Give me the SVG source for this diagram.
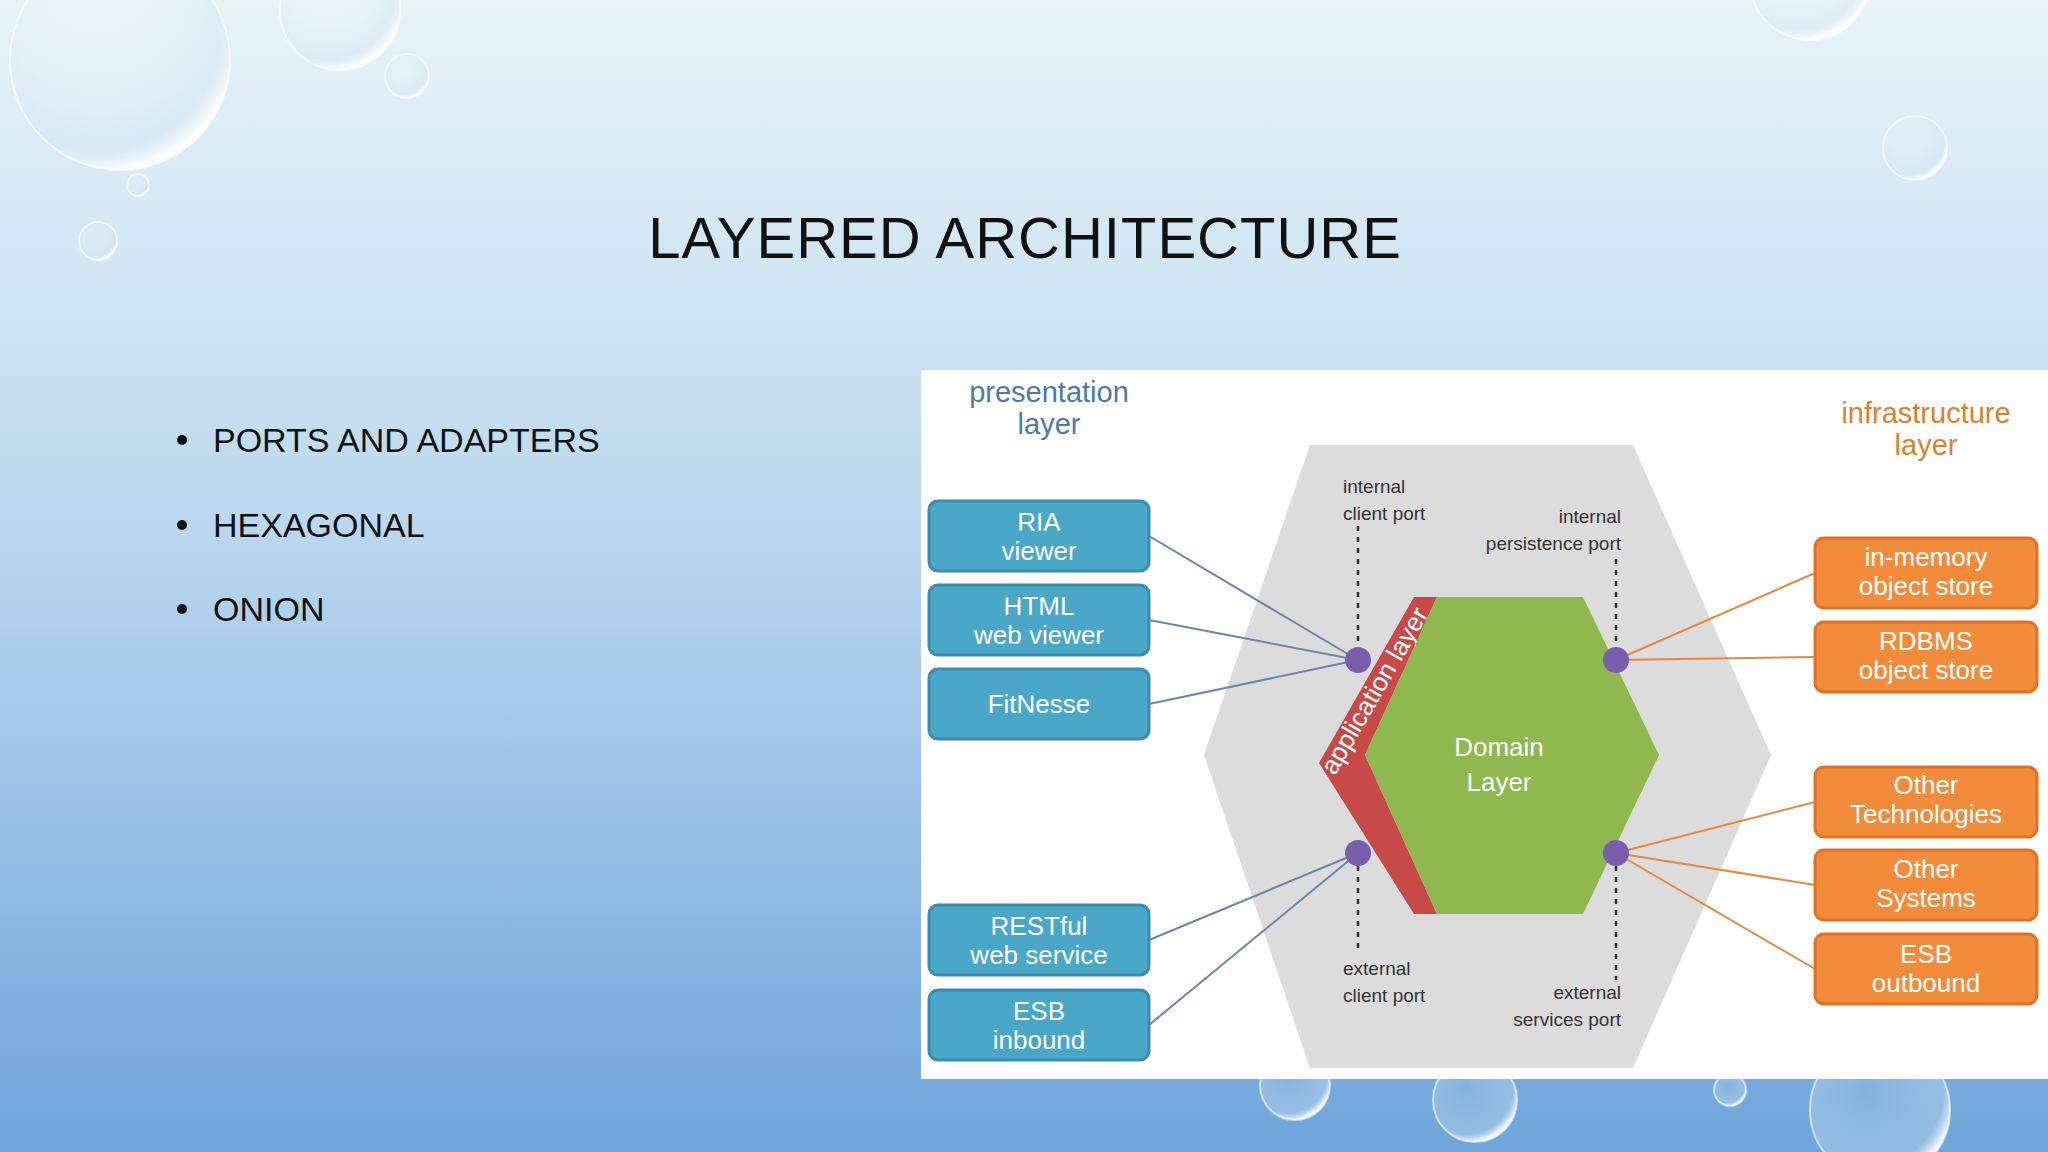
<svg xmlns="http://www.w3.org/2000/svg" width="2048" height="1152" viewBox="0 0 2048 1152">
<defs>
<linearGradient id="bg" x1="0" y1="0" x2="0" y2="1">
<stop offset="0" stop-color="#e8f4f9"/><stop offset="0.45" stop-color="#bcd8ee"/><stop offset="1" stop-color="#6fa5da"/>
</linearGradient>
<radialGradient id="drop" cx="0.4" cy="0.35" r="0.65">
<stop offset="0" stop-color="#ffffff" stop-opacity="0.1"/><stop offset="0.85" stop-color="#cfe4f2" stop-opacity="0.35"/><stop offset="1" stop-color="#ffffff" stop-opacity="0.9"/>
</radialGradient>
<style>
.drop{fill:url(#drop);stroke:#ffffff;stroke-opacity:0.6;stroke-width:2}
.blue rect{fill:#49a7c7;stroke:#3b8db0;stroke-width:3}
.orange rect{fill:#f28c3b;stroke:#e07222;stroke-width:3}
.bt{font-family:"Liberation Sans",Arial,sans-serif;font-size:26px;fill:#fff;text-anchor:middle}
.lbl{font-family:"Liberation Sans",Arial,sans-serif;font-size:19px;fill:#333}
.bl{stroke:#6a86ad;stroke-width:2;fill:none}
.ol{stroke:#e8883a;stroke-width:2;fill:none}
.dash{stroke:#333;stroke-width:2.5;stroke-dasharray:5 6}
.port{fill:#7a5eab}
.bul{font-family:"Liberation Sans",Arial,sans-serif;font-size:34px;fill:#111}
</style>
</defs>
<rect width="2048" height="1152" fill="url(#bg)"/>
<g id="drops">
<circle class="drop" cx="120" cy="60" r="110"/>
<circle class="drop" cx="340" cy="10" r="60"/>
<circle class="drop" cx="407" cy="76" r="22"/>
<circle class="drop" cx="138" cy="185" r="11"/>
<circle class="drop" cx="98" cy="241" r="19"/>
<circle class="drop" cx="1810" cy="-20" r="60"/>
<circle class="drop" cx="1915" cy="148" r="32"/>
<circle class="drop" cx="1475" cy="1100" r="42"/>
<circle class="drop" cx="1295" cy="1085" r="35"/>
<circle class="drop" cx="1880" cy="1110" r="70"/>
<circle class="drop" cx="1730" cy="1090" r="16"/>
</g>
<text id="title" x="1025" y="258" font-family="'Liberation Sans',Arial,sans-serif" font-size="58" fill="#111" text-anchor="middle" letter-spacing="1">LAYERED ARCHITECTURE</text>
<g id="bullets">
<circle cx="182" cy="440" r="5" fill="#111"/><text class="bul" x="213" y="452">PORTS AND ADAPTERS</text>
<circle cx="182" cy="525" r="5" fill="#111"/><text class="bul" x="213" y="537">HEXAGONAL</text>
<circle cx="182" cy="609" r="5" fill="#111"/><text class="bul" x="213" y="621">ONION</text>
</g>
<rect id="panel" x="921" y="370" width="1127" height="709" fill="#ffffff"/>
<g id="outer-hex"><polygon points="1310,445 1633,445 1771,755 1633,1068 1310,1068 1204,755" fill="#dcdcdc"/></g>
<g id="application-layer"><polygon points="1414,597 1437,597 1365,755 1437,914 1414,914 1319,763" fill="#c74a48"/>
<text x="1382" y="695" transform="rotate(-60 1382 695)" class="bt" font-size="19">application layer</text></g>
<g id="domain"><polygon points="1437,597 1583,597 1659,755 1583,914 1437,914 1365,755" fill="#8fb84e"/>
<text class="bt" x="1499" y="756" font-size="27">Domain</text><text class="bt" x="1499" y="791" font-size="27">Layer</text></g>
<g id="connectors">
<line class="bl" x1="1149" y1="536" x2="1358" y2="660"/>
<line class="bl" x1="1149" y1="620" x2="1358" y2="660"/>
<line class="bl" x1="1149" y1="704" x2="1358" y2="660"/>
<line class="bl" x1="1149" y1="940" x2="1358" y2="853"/>
<line class="bl" x1="1149" y1="1025" x2="1358" y2="853"/>
<line class="ol" x1="1815" y1="573" x2="1616" y2="660"/>
<line class="ol" x1="1815" y1="657" x2="1616" y2="660"/>
<line class="ol" x1="1815" y1="802" x2="1616" y2="853"/>
<line class="ol" x1="1815" y1="885" x2="1616" y2="853"/>
<line class="ol" x1="1815" y1="969" x2="1616" y2="853"/>
<line class="dash" x1="1358" y1="526" x2="1358" y2="646"/>
<line class="dash" x1="1358" y1="866" x2="1358" y2="953"/>
<line class="dash" x1="1616" y1="559" x2="1616" y2="646"/>
<line class="dash" x1="1616" y1="866" x2="1616" y2="980"/>
</g>
<g id="ports">
<circle class="port" cx="1358" cy="660" r="13"/><circle class="port" cx="1616" cy="660" r="13"/>
<circle class="port" cx="1358" cy="853" r="13"/><circle class="port" cx="1616" cy="853" r="13"/>
</g>
<g id="port-labels">
<text class="lbl" x="1343" y="493">internal</text><text class="lbl" x="1343" y="520">client port</text>
<text class="lbl" x="1621" y="523" text-anchor="end">internal</text><text class="lbl" x="1621" y="550" text-anchor="end">persistence port</text>
<text class="lbl" x="1343" y="975">external</text><text class="lbl" x="1343" y="1002">client port</text>
<text class="lbl" x="1621" y="999" text-anchor="end">external</text><text class="lbl" x="1621" y="1026" text-anchor="end">services port</text>
</g>
<g id="headers" font-family="'Liberation Sans',Arial,sans-serif" font-size="29" text-anchor="middle">
<text x="1049" y="402" fill="#4d7aa8">presentation</text><text x="1049" y="434" fill="#4d7aa8">layer</text>
<text x="1926" y="423" fill="#e07f2a">infrastructure</text><text x="1926" y="455" fill="#e07f2a">layer</text>
</g>
<g id="ria" class="blue"><rect x="929" y="501" width="220" height="70" rx="9"/><text class="bt" x="1039" y="531">RIA</text><text class="bt" x="1039" y="560">viewer</text></g>
<g id="html" class="blue"><rect x="929" y="585" width="220" height="70" rx="9"/><text class="bt" x="1039" y="615">HTML</text><text class="bt" x="1039" y="644">web viewer</text></g>
<g id="fitnesse" class="blue"><rect x="929" y="669" width="220" height="70" rx="9"/><text class="bt" x="1039" y="713">FitNesse</text></g>
<g id="restful" class="blue"><rect x="929" y="905" width="220" height="70" rx="9"/><text class="bt" x="1039" y="935">RESTful</text><text class="bt" x="1039" y="964">web service</text></g>
<g id="esb-in" class="blue"><rect x="929" y="990" width="220" height="70" rx="9"/><text class="bt" x="1039" y="1020">ESB</text><text class="bt" x="1039" y="1049">inbound</text></g>
<g id="inmem" class="orange"><rect x="1815" y="538" width="222" height="70" rx="9"/><text class="bt" x="1926" y="566">in-memory</text><text class="bt" x="1926" y="595">object store</text></g>
<g id="rdbms" class="orange"><rect x="1815" y="622" width="222" height="70" rx="9"/><text class="bt" x="1926" y="650">RDBMS</text><text class="bt" x="1926" y="679">object store</text></g>
<g id="othertech" class="orange"><rect x="1815" y="767" width="222" height="70" rx="9"/><text class="bt" x="1926" y="794">Other</text><text class="bt" x="1926" y="823">Technologies</text></g>
<g id="othersys" class="orange"><rect x="1815" y="850" width="222" height="70" rx="9"/><text class="bt" x="1926" y="878">Other</text><text class="bt" x="1926" y="907">Systems</text></g>
<g id="esb-out" class="orange"><rect x="1815" y="934" width="222" height="70" rx="9"/><text class="bt" x="1926" y="963">ESB</text><text class="bt" x="1926" y="992">outbound</text></g>
</svg>
